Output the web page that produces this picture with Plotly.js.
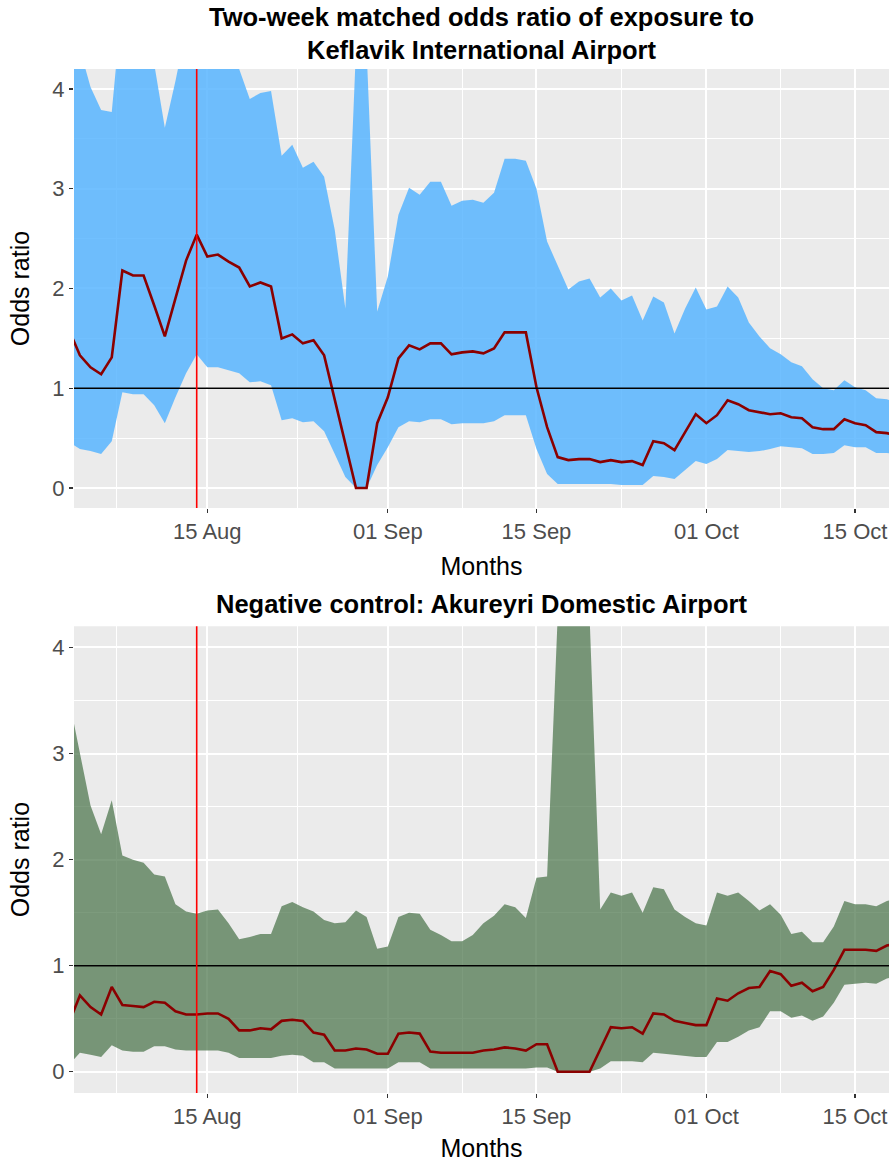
<!DOCTYPE html>
<html>
<head>
<meta charset="utf-8">
<script src="https://cdn.plot.ly/plotly-3.0.1.min.js"></script>
<style>html,body{margin:0;padding:0;background:#fff;}#chart{width:889px;height:1162px;}</style>
</head>
<body>
<div id="chart"></div>
<script>
const dates = [
 '2020-08-02','2020-08-03','2020-08-04','2020-08-05','2020-08-06','2020-08-07','2020-08-08','2020-08-09','2020-08-10','2020-08-11',
 '2020-08-12','2020-08-13','2020-08-14','2020-08-15','2020-08-16','2020-08-17','2020-08-18','2020-08-19','2020-08-20','2020-08-21',
 '2020-08-22','2020-08-23','2020-08-24','2020-08-25','2020-08-26','2020-08-27','2020-08-28','2020-08-29','2020-08-30','2020-08-31',
 '2020-09-01','2020-09-02','2020-09-03','2020-09-04','2020-09-05','2020-09-06','2020-09-07','2020-09-08','2020-09-09','2020-09-10',
 '2020-09-11','2020-09-12','2020-09-13','2020-09-14','2020-09-15','2020-09-16','2020-09-17','2020-09-18','2020-09-19','2020-09-20',
 '2020-09-21','2020-09-22','2020-09-23','2020-09-24','2020-09-25','2020-09-26','2020-09-27','2020-09-28','2020-09-29','2020-09-30',
 '2020-10-01','2020-10-02','2020-10-03','2020-10-04','2020-10-05','2020-10-06','2020-10-07','2020-10-08','2020-10-09','2020-10-10',
 '2020-10-11','2020-10-12','2020-10-13','2020-10-14','2020-10-15','2020-10-16','2020-10-17','2020-10-18','2020-10-19'
];

// Keflavik International Airport
const kefOR = [
 1.58,1.33,1.21,1.14,1.31,2.18,2.13,2.13,1.83,1.52,
 1.90,2.28,2.54,2.32,2.34,2.27,2.21,2.02,2.06,2.02,
 1.50,1.54,1.45,1.48,1.33,0.89,0.44,0.00,0.00,0.65,
 0.91,1.30,1.43,1.39,1.45,1.45,1.34,1.36,1.37,1.35,
 1.40,1.56,1.56,1.56,1.01,0.61,0.31,0.28,0.29,0.29,
 0.26,0.28,0.26,0.27,0.23,0.47,0.45,0.38,0.56,0.74,
 0.65,0.73,0.88,0.84,0.78,0.76,0.74,0.75,0.71,0.70,
 0.61,0.59,0.59,0.69,0.65,0.63,0.56,0.55,0.53
];
const kefUpper = [
 4.60,4.40,4.02,3.79,3.77,4.90,5.00,5.00,4.25,3.61,
 4.08,4.60,5.00,5.00,4.90,4.50,4.20,3.90,3.96,3.98,
 3.33,3.44,3.21,3.27,3.12,2.59,1.80,4.40,4.40,1.77,
 2.12,2.74,3.01,2.94,3.07,3.07,2.83,2.88,2.89,2.86,
 2.96,3.30,3.30,3.28,3.00,2.47,2.23,1.99,2.07,2.10,
 1.91,2.00,1.88,1.93,1.68,1.92,1.86,1.55,1.80,2.01,
 1.79,1.82,2.02,1.91,1.66,1.52,1.40,1.34,1.26,1.22,
 1.09,1.00,0.98,1.08,1.01,0.98,0.90,0.89,0.85
];
const kefLower = [
 0.46,0.39,0.37,0.34,0.47,0.96,0.94,0.94,0.83,0.65,
 0.91,1.15,1.34,1.21,1.21,1.18,1.15,1.06,1.07,1.03,
 0.68,0.70,0.66,0.67,0.57,0.34,0.11,0.00,0.00,0.23,
 0.41,0.61,0.67,0.66,0.69,0.69,0.64,0.65,0.65,0.65,
 0.67,0.73,0.73,0.73,0.39,0.14,0.04,0.04,0.04,0.04,
 0.04,0.04,0.03,0.03,0.03,0.12,0.11,0.09,0.18,0.27,
 0.24,0.29,0.38,0.37,0.36,0.37,0.39,0.42,0.41,0.40,
 0.34,0.34,0.35,0.43,0.41,0.41,0.35,0.35,0.34
];

// Akureyri Domestic Airport (negative control)
const akuOR = [
 0.47,0.72,0.61,0.54,0.80,0.63,0.62,0.61,0.66,0.65,
 0.57,0.54,0.54,0.55,0.55,0.50,0.39,0.39,0.41,0.40,
 0.48,0.49,0.48,0.37,0.35,0.20,0.20,0.22,0.21,0.17,
 0.17,0.36,0.37,0.36,0.19,0.18,0.18,0.18,0.18,0.20,
 0.21,0.23,0.22,0.20,0.26,0.26,0.00,0.00,0.00,0.00,
 0.21,0.42,0.41,0.42,0.36,0.55,0.54,0.48,0.46,0.44,
 0.44,0.69,0.67,0.74,0.79,0.80,0.95,0.92,0.81,0.84,
 0.76,0.80,0.96,1.15,1.15,1.15,1.14,1.19,1.21
];
const akuUpper = [
 3.50,3.01,2.51,2.24,2.56,2.04,2.00,1.97,1.86,1.84,
 1.58,1.51,1.49,1.52,1.53,1.40,1.25,1.27,1.30,1.30,
 1.56,1.60,1.55,1.51,1.43,1.40,1.41,1.52,1.46,1.16,
 1.18,1.46,1.50,1.49,1.34,1.29,1.23,1.23,1.29,1.40,
 1.47,1.58,1.55,1.45,1.83,1.84,4.30,6.00,6.00,4.30,
 1.53,1.69,1.66,1.69,1.50,1.74,1.72,1.53,1.46,1.40,
 1.38,1.69,1.66,1.69,1.61,1.52,1.58,1.48,1.30,1.32,
 1.22,1.22,1.37,1.61,1.58,1.58,1.56,1.61,1.63
];
const akuLower = [
 0.07,0.18,0.16,0.14,0.25,0.20,0.19,0.19,0.24,0.24,
 0.21,0.20,0.20,0.20,0.20,0.18,0.13,0.13,0.13,0.13,
 0.15,0.16,0.15,0.09,0.09,0.03,0.03,0.03,0.03,0.03,
 0.03,0.09,0.09,0.09,0.03,0.03,0.03,0.03,0.03,0.03,
 0.03,0.03,0.03,0.03,0.04,0.04,0.00,0.00,0.00,0.00,
 0.03,0.10,0.10,0.10,0.09,0.18,0.17,0.16,0.15,0.14,
 0.14,0.28,0.28,0.33,0.39,0.42,0.57,0.57,0.51,0.53,
 0.48,0.52,0.65,0.82,0.83,0.84,0.83,0.88,0.90
];

const tickDates = ['2020-08-15','2020-09-01','2020-09-15','2020-10-01','2020-10-15'];
const tickLabels = ['15 Aug','01 Sep','15 Sep','01 Oct','15 Oct'];
const minorDates = ['2020-08-06 10:19','2020-08-23 12:00','2020-09-08','2020-09-23','2020-10-08'];
const yTicks = [0,1,2,3,4];
const yMinor = [0.5,1.5,2.5,3.5];
const markerDate = '2020-08-14';
const refLevel = 1;

const FONT = 'Liberation Sans, Arial, Helvetica, sans-serif';
const blueFill = 'rgba(88,181,255,0.85)';
const greenFill = 'rgba(70,112,70,0.7)';
const lineCol = '#8B0000';

function band(lower, upper, est, fill, xa, ya) {
  return [
    {x: dates, y: lower, type: 'scatter', mode: 'lines', line: {width: 0, color: fill}, xaxis: xa, yaxis: ya, showlegend: false, hoverinfo: 'skip'},
    {x: dates, y: upper, type: 'scatter', mode: 'lines', line: {width: 0, color: fill}, fill: 'tonexty', fillcolor: fill, xaxis: xa, yaxis: ya, showlegend: false, hoverinfo: 'skip'},
    {x: dates, y: est, type: 'scatter', mode: 'lines', line: {width: 2.6, color: lineCol}, xaxis: xa, yaxis: ya, showlegend: false}
  ];
}

const data = [].concat(
  band(kefLower, kefUpper, kefOR, blueFill, 'x', 'y'),
  band(akuLower, akuUpper, akuOR, greenFill, 'x2', 'y2')
);

function xax(anchor) {
  return {
    type: 'date', anchor: anchor,
    range: ['2020-08-02 10:40', '2020-10-18 04:48'],
    tickmode: 'array', tickvals: tickDates, ticktext: tickLabels,
    ticks: 'outside', ticklen: 4, tickwidth: 1.1, tickcolor: '#333333',
    tickfont: {family: FONT, size: 22, color: '#4D4D4D'},
    showgrid: true, gridcolor: '#FFFFFF', gridwidth: 2,
    minor: {tickmode: 'array', tickvals: minorDates, showgrid: true, gridcolor: '#FFFFFF', gridwidth: 1, ticks: ''},
    zeroline: false, showline: false,
    title: {text: 'Months', font: {family: FONT, size: 25, color: '#000000'}, standoff: 14}
  };
}
function yax(domain, anchor) {
  return {
    domain: domain, anchor: anchor,
    range: [-0.2, 4.2],
    tickmode: 'array', tickvals: yTicks, ticktext: yTicks.map(String),
    ticks: 'outside', ticklen: 4, tickwidth: 1.1, tickcolor: '#333333',
    tickfont: {family: FONT, size: 22, color: '#4D4D4D'},
    showgrid: true, gridcolor: '#FFFFFF', gridwidth: 2,
    minor: {tickmode: 'array', tickvals: yMinor, showgrid: true, gridcolor: '#FFFFFF', gridwidth: 1, ticks: ''},
    zeroline: false, showline: false,
    title: {text: 'Odds ratio', font: {family: FONT, size: 25, color: '#000000'}, standoff: 15}
  };
}

const layout = {
  width: 889, height: 1162,
  margin: {l: 74, r: 0, t: 69, b: 69},
  paper_bgcolor: '#FFFFFF',
  plot_bgcolor: '#EBEBEB',
  font: {family: FONT},
  title: {
    text: '<b>Two-week matched odds ratio of exposure to<br>Keflavik International Airport</b>',
    font: {family: FONT, size: 25.5, color: '#000000'},
    x: 0.5, xref: 'paper', xanchor: 'center',
    y: 1 - 26/1162, yref: 'container', yanchor: 'middle'
  },
  xaxis: xax('y'),
  yaxis: yax([0.5713, 1], 'x'),
  xaxis2: xax('y2'),
  yaxis2: yax([0, 0.4558], 'x2'),
  annotations: [{
    text: '<b>Negative control: Akureyri Domestic Airport</b>',
    xref: 'paper', yref: 'paper', x: 0.5, y: (1093 - 604) / 1024,
    xanchor: 'center', yanchor: 'middle', showarrow: false,
    font: {family: FONT, size: 25.5, color: '#000000'}
  }],
  shapes: [
    {type: 'line', xref: 'x domain', yref: 'y', x0: 0, x1: 1, y0: refLevel, y1: refLevel, line: {color: '#000000', width: 1.6}},
    {type: 'line', xref: 'x', yref: 'y domain', x0: markerDate, x1: markerDate, y0: 0, y1: 1, line: {color: '#FF0000', width: 1.6}},
    {type: 'line', xref: 'x2 domain', yref: 'y2', x0: 0, x1: 1, y0: refLevel, y1: refLevel, line: {color: '#000000', width: 1.6}},
    {type: 'line', xref: 'x2', yref: 'y2 domain', x0: markerDate, x1: markerDate, y0: 0, y1: 1, line: {color: '#FF0000', width: 1.6}}
  ]
};

Plotly.newPlot('chart', data, layout, {displayModeBar: false, staticPlot: true});
</script>
</body>
</html>
